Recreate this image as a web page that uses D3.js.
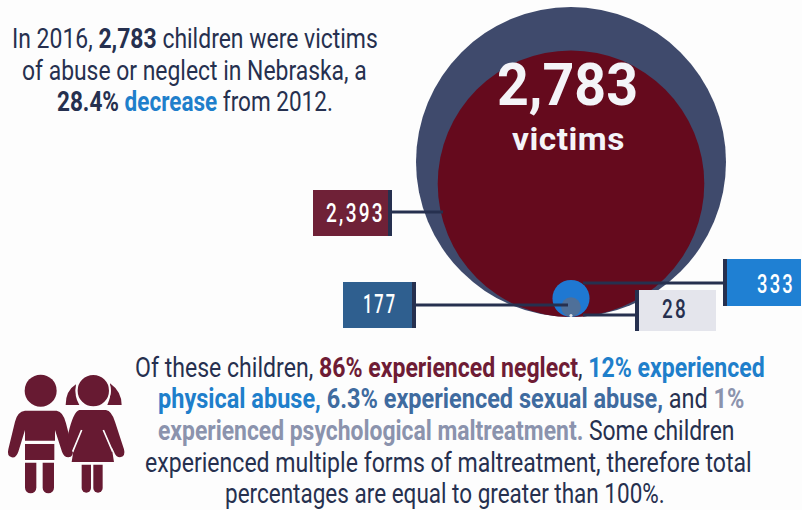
<!DOCTYPE html>
<html>
<head>
<meta charset="utf-8">
<script src="https://cdn.jsdelivr.net/npm/d3@7"></script>
<style>
  html, body { margin: 0; padding: 0; background: #fdfdfd; }
  svg { display: block; }
  text { font-family: Roboto, sans-serif; }
</style>
</head>
<body>
<div id="chart"></div>
<script>
var width = 802;
var height = 510;

// chart values
var total = 2783;
var totalLabel = "2,783";
var totalUnit = "victims";
var categories = ["Neglect", "Physical abuse", "Sexual abuse", "Psychological maltreatment"];
var values = [2393, 333, 177, 28];
var valueLabels = ["2,393", "333", "177", "28"];

// colours
var navy = "#26304f";
var outerColor = "#3f4a6c";
var circleColors = ["#650a1d", "#1f78d2", "#4f7099", "#e2e4ea"];
var boxColors = ["#6f2137", "#1f80d3", "#2f5f8f", "#e4e5ec"];
var boxText = ["#fff", "#fff", "#fff", navy];

// label box placement, in the same order as categories
var boxes = [
    { x: 313, y: 190, w: 79, h: 46, edge: "right", lineY: 212, lineTo: 443, tx0: 326, tx1: 385, base: 222 },
    { x: 723, y: 259, w: 78, h: 47, edge: "left", lineY: 283, lineTo: 583, tx0: 757, tx1: 795, base: 293 },
    { x: 343, y: 282, w: 73, h: 46, edge: "right", lineY: 305, lineTo: 568, tx0: 363, tx1: 397, base: 313 },
    { x: 635, y: 290, w: 81, h: 41, edge: "left", lineY: 315, lineTo: 583, tx0: 662, tx1: 688, base: 318 }
];

// paragraphs: each line is a list of [text, bold, colour]
var maroon = "#6e1c35", blue = "#1f7fcb", steel = "#3f6b9f", grey = "#8b93ad";
var topLines = [
    { x0: 12, x1: 378, y: 48, runs: [["In 2016, ", 0, navy], ["2,783", 1, navy], [" children were victims", 0, navy]] },
    { x0: 22, x1: 367, y: 80, runs: [["of abuse or neglect in Nebraska, a", 0, navy]] },
    { x0: 57, x1: 333, y: 111, runs: [["28.4% ", 1, navy], ["decrease", 1, blue], [" from 2012.", 0, navy]] }
];
var bottomLines = [
    { x0: 135, x1: 765, y: 377, runs: [["Of these children, ", 0, navy], ["86% experienced neglect", 1, maroon], [", ", 0, navy], ["12% experienced", 1, blue]] },
    { x0: 158, x1: 745, y: 408, runs: [["physical abuse, ", 1, blue], ["6.3% experienced sexual abuse,", 1, steel], [" and ", 0, navy], ["1%", 1, grey]] },
    { x0: 158, x1: 735, y: 440, runs: [["experienced psychological maltreatment.", 1, grey], [" Some children", 0, navy]] },
    { x0: 145, x1: 752, y: 472, runs: [["experienced multiple forms of maltreatment, therefore total", 0, navy]] },
    { x0: 225, x1: 665, y: 503, runs: [["percentages are equal to greater than 100%.", 0, navy]] }
];

var svg = d3.select("#chart").append("svg")
    .attr("width", width)
    .attr("height", height);

svg.append("rect").attr("width", width).attr("height", height).attr("fill", "#fdfdfd");

// radius runs linear with the count, all circles sit on the same bottom point
var r = d3.scaleLinear().domain([0, total]).range([0, 155]);
var cx = 571;
var bottomY = 317;

svg.append("circle")
    .attr("cx", cx)
    .attr("cy", bottomY - r(total))
    .attr("r", r(total))
    .attr("fill", outerColor);

svg.selectAll("circle.part")
    .data(values)
    .enter().append("circle")
    .attr("class", "part")
    .attr("cx", cx)
    .attr("cy", function (d) { return bottomY - r(d); })
    .attr("r", function (d) { return r(d); })
    .attr("fill", function (d, i) { return circleColors[i]; });

// squeeze a text between x0 and x1, the original face is a condensed one
function fit(sel, x0, x1, y) {
    sel.attr("transform", null);
    var w = sel.node().getComputedTextLength();
    sel.attr("transform", "translate(" + x0 + "," + y + ") scale(" + ((x1 - x0) / w) + ",1)");
}

function drawLines(lines, size) {
    lines.forEach(function (line) {
        var t = svg.append("text").attr("font-size", size).style("white-space", "pre");
        t.selectAll("tspan")
            .data(line.runs)
            .enter().append("tspan")
            .attr("font-weight", function (d) { return d[1] ? 700 : 400; })
            .attr("fill", function (d) { return d[2]; })
            .text(function (d) { return d[0]; });
        fit(t, line.x0, line.x1, line.y);
    });
}

// connector lines
svg.selectAll("line.conn")
    .data(boxes)
    .enter().append("line")
    .attr("class", "conn")
    .attr("x1", function (d) { return d.edge === "right" ? d.x + d.w : d.x; })
    .attr("x2", function (d) { return d.lineTo; })
    .attr("y1", function (d) { return d.lineY; })
    .attr("y2", function (d) { return d.lineY; })
    .attr("stroke", navy)
    .attr("stroke-width", 3);

// label boxes
var box = svg.selectAll("g.box")
    .data(boxes)
    .enter().append("g")
    .attr("class", "box");

box.append("rect")
    .attr("x", function (d) { return d.x; })
    .attr("y", function (d) { return d.y; })
    .attr("width", function (d) { return d.w; })
    .attr("height", function (d) { return d.h; })
    .attr("fill", function (d, i) { return boxColors[i]; });

box.append("rect")
    .attr("x", function (d) { return d.edge === "right" ? d.x + d.w - 4 : d.x; })
    .attr("y", function (d) { return d.y; })
    .attr("width", 4)
    .attr("height", function (d) { return d.h; })
    .attr("fill", navy);

box.append("text")
    .attr("font-size", 25)
    .attr("font-weight", 500)
    .attr("letter-spacing", 3)
    .attr("fill", function (d, i) { return boxText[i]; })
    .text(function (d, i) { return valueLabels[i]; })
    .each(function (d) { fit(d3.select(this), d.tx0, d.tx1, d.base); });

// centre text
svg.append("text")
    .attr("font-size", 59)
    .attr("font-weight", 700)
    .attr("fill", "#f4f4f8")
    .text(totalLabel)
    .call(fit, 497, 638, 105);

svg.append("text")
    .attr("font-size", 32)
    .attr("font-weight", 700)
    .attr("letter-spacing", 0.5)
    .attr("fill", "#f4f4f8")
    .text(totalUnit)
    .call(fit, 512, 625, 150);

drawLines(topLines, 27);
drawLines(bottomLines, 27);

// children icon, drawn on a 3x grid
var icon = svg.append("g")
    .attr("transform", "translate(0,350) scale(0.3333)")
    .attr("fill", "#671a32");

icon.append("circle").attr("cx", 122).attr("cy", 122).attr("r", 48);
icon.append("path").attr("d", "M75,182 H170 Q190,185 198,220 L218,298 Q222,322 205,322 Q192,322 186,305 L165,240 V272 H75 V240 L55,305 Q48,325 35,322 Q20,318 25,298 L45,215 Q52,185 75,182 Z");
icon.append("rect").attr("x", 75).attr("y", 282).attr("width", 88).attr("height", 48);
[75, 128].forEach(function (x) {
    icon.append("path").attr("d", "M" + x + ",338 h34 v75 a17,17 0 0 1 -34,0 Z");
});
icon.append("path").attr("d", "M197,165 Q197,122 228,103 Q222,140 238,165 Z");
icon.append("path").attr("d", "M330,100 Q365,125 365,165 H322 Q335,140 330,100 Z");
icon.append("circle").attr("cx", 280).attr("cy", 122).attr("r", 50).attr("stroke", "#fdfdfd").attr("stroke-width", 6);
icon.append("path").attr("d", "M238,180 H318 Q335,183 345,215 L372,298 Q378,320 360,322 Q348,322 342,305 L335,292 L342,336 H215 L222,292 L215,310 Q208,322 200,318 Q198,300 205,250 Q220,185 238,180 Z");
icon.append("path").attr("d", "M245,240 L218,305 M310,240 L338,305").attr("stroke", "#fdfdfd").attr("stroke-width", 5).attr("fill", "none");
[245, 280].forEach(function (x) {
    icon.append("path").attr("d", "M" + x + ",344 h28 v70 a14,14 0 0 1 -28,0 Z");
});
</script>
</body>
</html>
